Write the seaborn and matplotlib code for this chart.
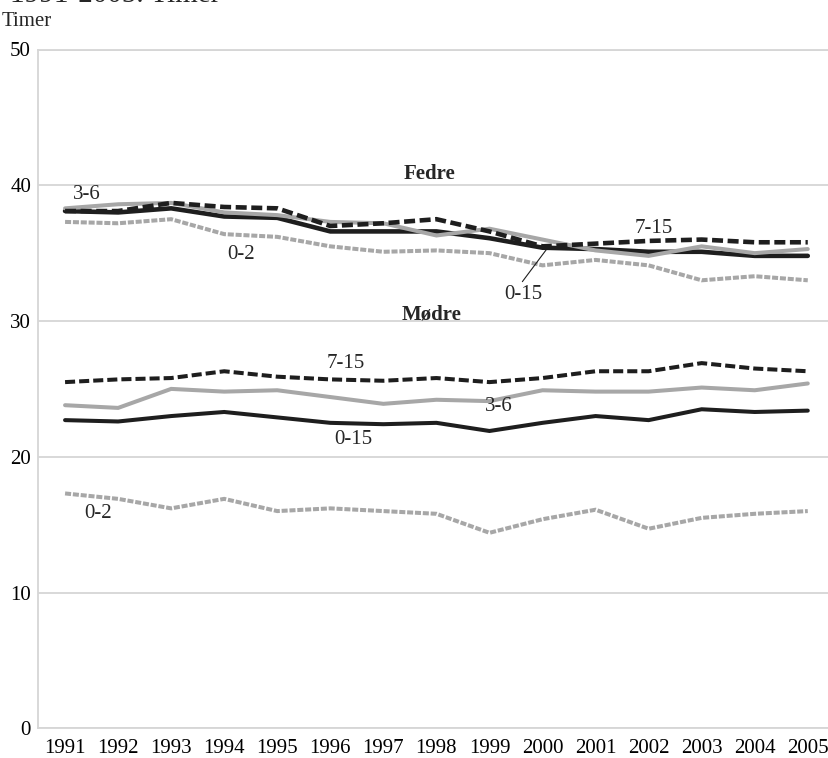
import numpy as np
import matplotlib
matplotlib.use("Agg")
import matplotlib.pyplot as plt
import seaborn as sns
import pandas as pd

YEARS = list(range(1991, 2006))

# Fedre (fathers), hours per week
FEDRE_0_15 = [38.1, 38.0, 38.3, 37.7, 37.6, 36.6, 36.6, 36.6, 36.1, 35.4, 35.3, 35.1, 35.1, 34.8, 34.8]
FEDRE_7_15 = [38.1, 38.1, 38.7, 38.4, 38.3, 37.0, 37.2, 37.5, 36.6, 35.5, 35.7, 35.9, 36.0, 35.8, 35.8]
FEDRE_3_6 = [38.3, 38.6, 38.7, 38.0, 37.8, 37.3, 37.2, 36.3, 36.8, 36.0, 35.2, 34.8, 35.5, 35.0, 35.3]
FEDRE_0_2 = [37.3, 37.2, 37.5, 36.4, 36.2, 35.5, 35.1, 35.2, 35.0, 34.1, 34.5, 34.1, 33.0, 33.3, 33.0]

# Mødre (mothers)
MODRE_7_15 = [25.5, 25.7, 25.8, 26.3, 25.9, 25.7, 25.6, 25.8, 25.5, 25.8, 26.3, 26.3, 26.9, 26.5, 26.3]
MODRE_3_6 = [23.8, 23.6, 25.0, 24.8, 24.9, 24.4, 23.9, 24.2, 24.1, 24.9, 24.8, 24.8, 25.1, 24.9, 25.4]
MODRE_0_15 = [22.7, 22.6, 23.0, 23.3, 22.9, 22.5, 22.4, 22.5, 21.9, 22.5, 23.0, 22.7, 23.5, 23.3, 23.4]
MODRE_0_2 = [17.3, 16.9, 16.2, 16.9, 16.0, 16.2, 16.0, 15.8, 14.4, 15.4, 16.1, 14.7, 15.5, 15.8, 16.0]

BLACK = "#1e1e1e"
GRAY = "#a7a7a7"
GRID = "#d6d6d6"

# (group, age, values, colour, linestyle, linewidth) -- drawn in this order
SERIES = [
    ("Fedre", "0-2", FEDRE_0_2, GRAY, (0, (1.5, 0.45)), 2.9),
    ("Fedre", "0-15", FEDRE_0_15, BLACK, "-", 3.3),
    ("Fedre", "3-6", FEDRE_3_6, GRAY, "-", 2.9),
    ("Fedre", "7-15", FEDRE_7_15, BLACK, (0, (2.4, 1.0)), 3.3),
    ("Mødre", "0-2", MODRE_0_2, GRAY, (0, (1.5, 0.45)), 2.9),
    ("Mødre", "0-15", MODRE_0_15, BLACK, "-", 2.9),
    ("Mødre", "3-6", MODRE_3_6, GRAY, "-", 2.9),
    ("Mødre", "7-15", MODRE_7_15, BLACK, (0, (2.5, 1.0)), 2.9),
]

sns.set_theme(style="white")
plt.rcParams["font.family"] = ["Liberation Serif", "DejaVu Serif"]

fig = plt.figure(figsize=(8.29, 7.58), dpi=100)
ax = fig.add_axes([38 / 829, 1 - 728.3 / 758, 1 - 38 / 829, (728.3 - 49.5) / 758])

for group, age, vals, color, ls, lw in SERIES:
    df = pd.DataFrame({"year": YEARS, "timer": vals})
    sns.lineplot(data=df, x="year", y="timer", ax=ax, color=color,
                 linestyle=ls, linewidth=lw, legend=False,
                 solid_joinstyle="miter", dash_joinstyle="miter")

# labels on the lines
fs = 15
ax.text(1997.87, 40.85, "Fedre", ha="center", va="center", fontsize=fs, fontweight="bold")
ax.text(1997.9, 30.5, "Mødre", ha="center", va="center", fontsize=fs, fontweight="bold")
ax.text(1991.41, 39.3, "3-6", ha="center", va="center", fontsize=fs)
ax.text(1994.31, 34.88, "0-2", ha="center", va="center", fontsize=fs)
ax.text(2002.1, 36.85, "7-15", ha="center", va="center", fontsize=fs)
ax.text(1999.63, 31.93, "0-15", ha="center", va="center", fontsize=fs)
ax.plot([1999.62, 2000.07], [32.9, 35.25], color=BLACK, lw=0.8)
ax.text(1996.29, 26.9, "7-15", ha="center", va="center", fontsize=fs)
ax.text(1999.17, 23.7, "3-6", ha="center", va="center", fontsize=fs)
ax.text(1996.43, 21.3, "0-15", ha="center", va="center", fontsize=fs)
ax.text(1991.62, 15.79, "0-2", ha="center", va="center", fontsize=fs)

ax.set_xlim(1990.49, 2005.4)
ax.set_ylim(0, 50)
ax.set_xticks(YEARS)
ax.set_xticklabels([str(y) for y in YEARS])
ax.set_xticks([1992, 1995, 1998, 2001, 2004], minor=True)
ax.set_yticks([0, 10, 20, 30, 40, 50])
ax.set_xlabel("")
ax.set_ylabel("")

ax.grid(False)
ax.grid(axis="y", which="major", color=GRID, lw=1.3)
ax.grid(axis="x", which="minor", color=GRID, lw=1.3)
ax.set_axisbelow(True)

ax.tick_params(axis="x", which="major", direction="in", length=7, width=1.2,
               labelsize=fs, pad=8, colors="black")
ax.tick_params(axis="x", which="major", color=GRID)
ax.tick_params(axis="x", which="minor", length=0)
ax.tick_params(axis="y", length=0, labelsize=fs, pad=5, colors="black")

for side in ["left", "bottom", "top"]:
    ax.spines[side].set_color(GRID)
    ax.spines[side].set_linewidth(1.3)
ax.spines["right"].set_visible(False)

fig.text(2 / 829, 1 - 21 / 758, "Timer", ha="left", va="center", fontsize=15)
# title line, cropped at the top edge as in the source picture
fig.text(220 / 829, 1 - 2.5 / 758, "1991-2005. Timer", ha="right", va="baseline", fontsize=21)

fig.savefig("out.png", dpi=100)
plt.close(fig)
